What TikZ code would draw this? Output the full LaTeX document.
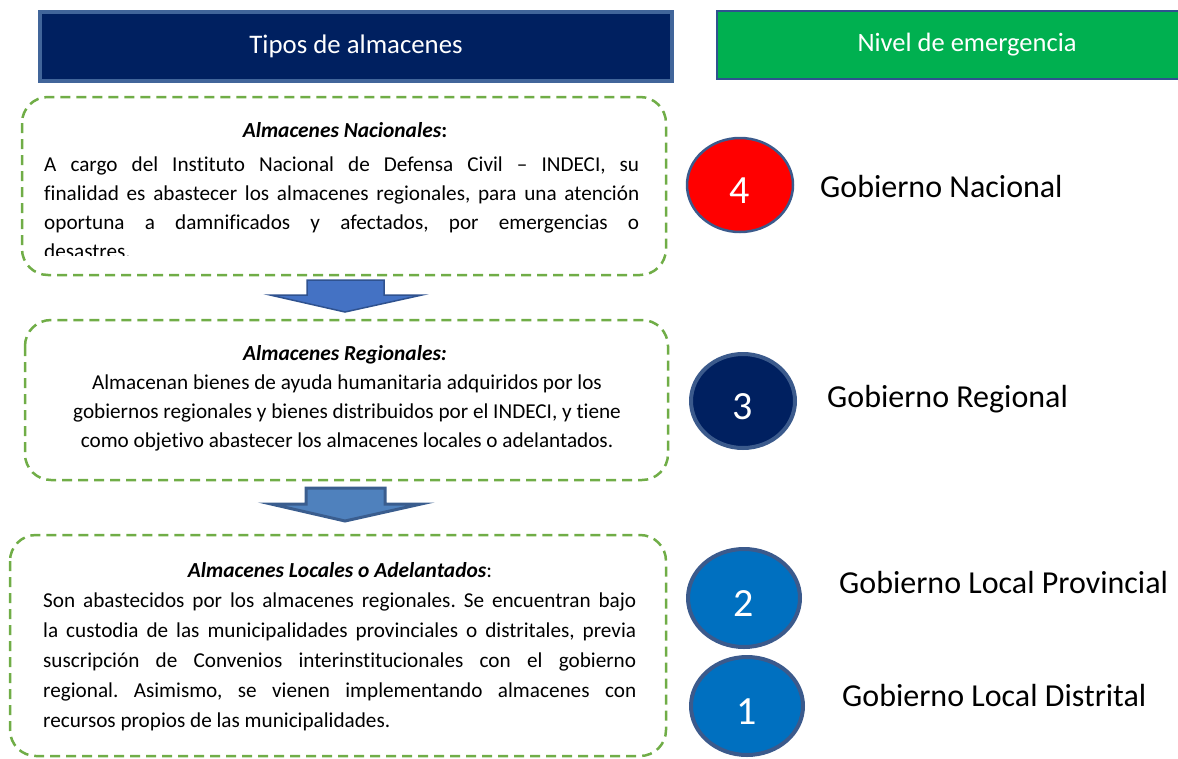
\documentclass[tikz,border=0pt]{standalone}
\usepackage{fontspec}
\setmainfont{Carlito}[Ligatures=NoCommon]
\usetikzlibrary{shapes.geometric}
\definecolor{navy}{HTML}{002060}
\definecolor{hdrborder}{HTML}{41659A}
\definecolor{grn}{HTML}{00B050}
\definecolor{dashgreen}{HTML}{70AD47}
\definecolor{arrfill}{HTML}{4472C4}
\definecolor{arrfillb}{HTML}{4F81BD}
\definecolor{arrborder}{HTML}{2F528F}
\definecolor{arrborderb}{HTML}{3A5D8E}
\definecolor{circborder}{HTML}{3B5A8C}
\definecolor{midblue}{HTML}{0070C0}
\newcommand{\lowdigit}[1]{\raisebox{-6pt}[\height][\depth]{#1}}
\begin{document}
\frenchspacing
\begin{tikzpicture}[x=1pt,y=-1pt,
  hdr/.style={draw, anchor=north west, inner sep=0pt, text=white, font=\fontsize{26.8}{30}\selectfont},
  dbox/.style={draw=dashgreen, dash pattern=on 10pt off 6pt, line width=2.5pt, rounded corners=26pt},
  ttl/.style={font=\fontsize{21.4}{29}\selectfont\bfseries\itshape, inner sep=0pt, anchor=base},
  body/.style={font=\fontsize{21.2}{29}\selectfont, inner sep=0pt, align=left, anchor=base west},
  bodyc/.style={font=\fontsize{21.2}{29}\selectfont, inner sep=0pt, align=center, anchor=base},
  blockarrow/.style={draw=arrborder, line width=1.5pt, fill=arrfill, line join=miter},
  lvl/.style={ellipse, draw=circborder, line width=3pt, text=white, font=\fontsize{40}{44}\selectfont, inner sep=0pt},
  lvltext/.style={font=\fontsize{32}{36}\selectfont, anchor=base west, inner sep=0pt}
]
\useasboundingbox (0,0) rectangle (1178,758);
% headers
\node[hdr, fill=navy, draw=hdrborder, line width=4pt, minimum width=632pt, minimum height=69pt] (h1) at (38,10) {Tipos de almacenes};
\node[hdr, fill=grn, draw=arrborder, line width=2pt, minimum width=470pt, minimum height=68pt, font=\fontsize{26.5}{30}\selectfont] (h2) at (716,10) {\hspace*{30pt}Nivel de emergencia};
% box 1
\draw[dbox] (22,97) rectangle (666,275);
\node[ttl] (t1) at (345,137) {Almacenes Nacionales\textup{:}};
\begin{scope}
\clip (30,100) rectangle (660,255.5);
\node[body] (b1) at (44,258) {%
\makebox[595pt][s]{A cargo del Instituto Nacional de Defensa Civil – INDECI, su}\\
\makebox[595pt][s]{finalidad es abastecer los almacenes regionales, para una atención}\\
\makebox[595pt][s]{oportuna a damnificados y afectados, por emergencias o}\\
desastres.};
\end{scope}
% arrow 1
\draw[blockarrow] (307,280) -- (384,280) -- (384,295) -- (422,295) -- (345,312) -- (270,295) -- (307,295) -- cycle;
% box 2
\draw[dbox] (25,320) rectangle (668,480);
\node[ttl] (t2) at (345,360) {Almacenes Regionales:};
\node[bodyc] (b2) at (347,447) {Almacenan bienes de ayuda humanitaria adquiridos por los\\
gobiernos regionales y bienes distribuidos por el INDECI, y tiene\\
como objetivo abastecer los almacenes locales o adelantados.};
% arrow 2
\draw[blockarrow, fill=arrfillb, draw=arrborderb, line width=3pt] (306,488) -- (385,488) -- (385,504) -- (421,504) -- (345,521) -- (271,504) -- (306,504) -- cycle;
% box 3
\draw[dbox] (10,535) rectangle (666,756);
\node[ttl] (t3) at (340,577) {Almacenes Locales o Adelantados\textup{\mdseries:}};
\node[body, font=\fontsize{21.2}{30}\selectfont] (b3) at (43,727) {%
\makebox[593pt][s]{Son abastecidos por los almacenes regionales. Se encuentran bajo}\\
\makebox[593pt][s]{la custodia de las municipalidades provinciales o distritales, previa}\\
\makebox[593pt][s]{suscripción de Convenios interinstitucionales con el gobierno}\\
\makebox[593pt][s]{regional. Asimismo, se vienen implementando almacenes con}\\
recursos propios de las municipalidades.};
% levels
\node[lvl, fill=red, line width=2.5pt, minimum width=106pt, minimum height=94pt] (c4) at (740,185) {\lowdigit{4}};
\node[lvltext] (g4) at (820,197) {Gobierno Nacional};
\node[lvl, fill=navy, line width=4pt, minimum width=104pt, minimum height=94pt] (c3) at (743,401) {\lowdigit{3}};
\node[lvltext] (g3) at (827,407) {Gobierno Regional};
\node[lvl, fill=midblue, line width=4pt, minimum width=112pt, minimum height=98pt] (c2) at (744,598) {\lowdigit{2}};
\node[lvltext] (g2) at (839,593) {Gobierno Local Provincial};
\node[lvl, fill=midblue, line width=4pt, minimum width=112pt, minimum height=98pt] (c1) at (747,706) {\lowdigit{1}};
\node[lvltext] (g1) at (842,706) {Gobierno Local Distrital};
\end{tikzpicture}
\end{document}
